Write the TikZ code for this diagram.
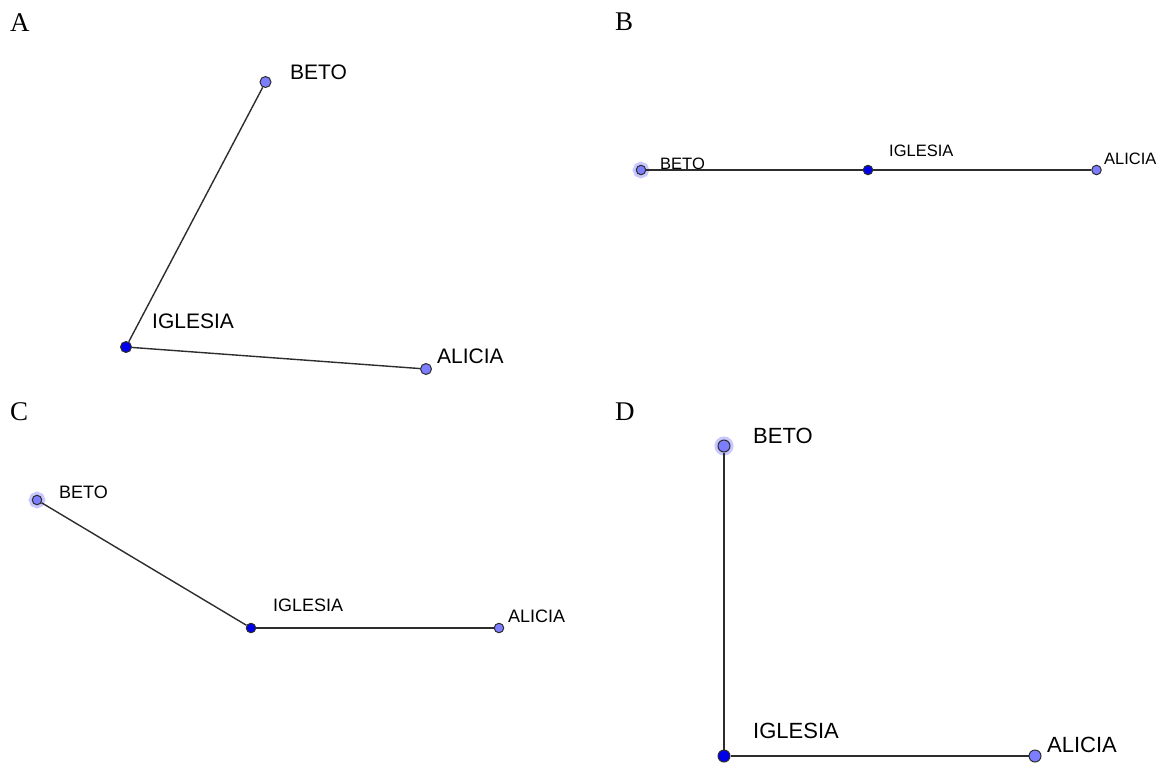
\documentclass[tikz,border=0pt]{standalone}
\usepackage{fontspec}
\setmainfont{Liberation Serif}
\newfontfamily\geofont{Liberation Sans}
\usetikzlibrary{positioning}
\definecolor{freept}{RGB}{125,125,255}
\definecolor{fixpt}{RGB}{0,0,235}
\definecolor{halopt}{RGB}{200,200,255}
\definecolor{seg}{RGB}{45,45,45}
\tikzset{
  pt/.style={circle, draw=seg, line width=1pt, inner sep=0pt, minimum size=#1},
  pt/.default=10pt,
  free/.style={pt=#1, fill=freept},
  free/.default=10pt,
  fixed/.style={pt=#1, fill=fixpt},
  fixed/.default=10pt,
  glow/.style={preaction={draw=halopt, line width=7pt}},
  segment/.style={draw=seg, line width=1.4pt},
  lbl/.style={anchor=base west, inner sep=0pt, font=\geofont\fontsize{#1}{#1}\selectfont},
  lbl/.default=21pt,
  panel/.style={anchor=base west, inner sep=0pt, font=\fontsize{27}{27}\selectfont}
}
\begin{document}
\begin{tikzpicture}[x=1pt, y=-1pt]
  \useasboundingbox (0,0) rectangle (1162,764);

  % Panel letters
  \foreach \x/\y/\lab in {10/31/A, 615/30/B, 10/420/C, 615/420/D} {
    \node[panel] (panel\lab) at (\x,\y) {\lab};
  }

  % A
  \node[fixed=11pt] (iglA) at (126,347) {};
  \node[free=11pt] (betoA) at (265.5,82) {};
  \node[free=11pt] (aliA) at (426,369) {};
  \draw[segment] (iglA) -- (betoA);
  \draw[segment] (iglA) -- (aliA);
  \node[lbl] (tbetoA) at (290,79) {BETO};
  \node[lbl] (tiglA) at (152,328) {IGLESIA};
  \node[lbl] (taliA) at (437,363) {ALICIA};

  % B
  \node[fixed=9.5pt] (iglB) at (868,170) {};
  \node[free=9.5pt, glow] (betoB) at (641,170) {};
  \node[free=9.5pt] (aliB) at (1096.5,170) {};
  \draw[segment] (betoB) -- (iglB);
  \draw[segment] (iglB) -- (aliB);
  \node[lbl=16.5pt] (tbetoB) at (660,169) {BETO};
  \node[lbl=16.5pt] (tiglB) at (889,156) {IGLESIA};
  \node[lbl=16.5pt] (taliB) at (1104,164) {ALICIA};

  % C
  \node[fixed=9.5pt] (iglC) at (251,628) {};
  \node[free=9.5pt, glow] (betoC) at (37,500) {};
  \node[free=9.5pt] (aliC) at (499,628) {};
  \draw[segment] (betoC) -- (iglC);
  \draw[segment] (iglC) -- (aliC);
  \node[lbl=18pt] (tbetoC) at (59,498) {BETO};
  \node[lbl=18pt] (tiglC) at (273,611) {IGLESIA};
  \node[lbl=18pt] (taliC) at (508,622) {ALICIA};

  % D
  \node[fixed=12pt] (iglD) at (724,756) {};
  \node[free=12pt, glow] (betoD) at (724,446) {};
  \node[free=12pt] (aliD) at (1035,756) {};
  \draw[segment] (betoD) -- (iglD);
  \draw[segment] (iglD) -- (aliD);
  \node[lbl=22pt] (tbetoD) at (753,443) {BETO};
  \node[lbl=22pt] (tiglD) at (753,738) {IGLESIA};
  \node[lbl=22pt] (taliD) at (1047,752) {ALICIA};
\end{tikzpicture}
\end{document}
